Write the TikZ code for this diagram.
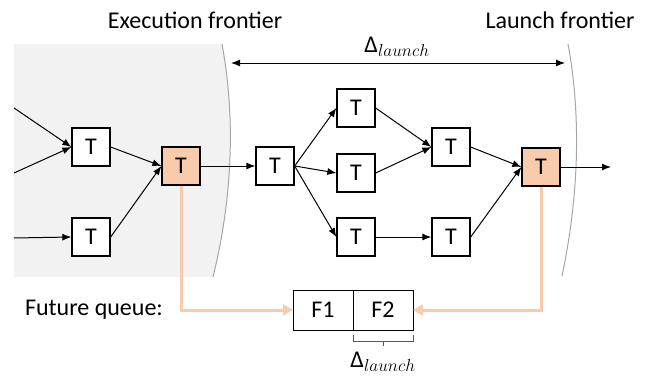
\documentclass[tikz,border=0pt]{standalone}
\usepackage{fontspec}
\setmainfont{Carlito}
\DeclareMathSizes{24}{24}{18}{14}
\usetikzlibrary{positioning,arrows.meta}
\definecolor{shadegray}{RGB}{242,242,242}
\definecolor{frontiergray}{RGB}{166,166,166}
\definecolor{futureorange}{RGB}{248,203,173}
\definecolor{bracketgray}{RGB}{89,89,89}

\begin{document}
\begin{tikzpicture}[x=1pt, y=-1pt, node distance=90pt, font=\fontsize{24}{28}\selectfont]
    \tikzstyle{task} = [rectangle, draw=black, line width=1.3pt, fill=white, minimum size=38pt, inner sep=0pt, text centered]
    \tikzstyle{frontiertask} = [task, fill=futureorange]
    \tikzstyle{slot} = [rectangle, draw=black, line width=0.9pt, minimum width=60pt, minimum height=40pt, inner sep=0pt, outer sep=0pt]
    \tikzstyle{edge} = [-{Latex[length=9pt,width=7pt]}, line width=1pt]
    \tikzstyle{span} = [{Latex[length=9pt,width=7pt]}-{Latex[length=9pt,width=7pt]}, line width=1pt]
    \tikzstyle{futurelink} = [-{Triangle[length=10pt,width=11pt]}, draw=futureorange, line width=3pt]
    \tikzstyle{frontier} = [draw=frontiergray, line width=1pt]
    \tikzstyle{bracket} = [draw=bracketgray, line width=1pt]

    \useasboundingbox (0,0) rectangle (652,375);

    % Executed region and frontiers
    \fill [shadegray] (14,44) -- (222,44) .. controls (236,120) and (232,200) .. (213,277) -- (14,277) -- cycle;
    \draw [frontier] (222,44) .. controls (236,120) and (232,200) .. (213,277);
    \draw [frontier] (568,44) .. controls (582,120) and (578,200) .. (562,276);

    % Titles
    \node (exectitle) at (195,20) {Execution frontier};
    \node (launchtitle) at (560,20) {Launch frontier};
    \node (queuelabel) at (94,310) {Future queue:};
    \node (spanlabel) at (397,47) {Δ$_{launch}$};

    % Open ends
    \coordinate (srcupper) at (14,108);
    \coordinate (srcmid) at (14,173);
    \coordinate (srclower) at (14,238);
    \coordinate (sink) at (611,167);
    \coordinate (execmark) at (231,63);
    \coordinate (launchmark) at (565,63);

    % Tasks
    \node [task] (upperin) at (91,147) {T};
    \node [task, below of=upperin] (lowerin) {T};
    \node [frontiertask, right of=upperin, yshift=-19pt] (execnode) {T};
    \node [task, right of=execnode, xshift=4pt] (firstnode) {T};
    \node [task, right of=firstnode, xshift=-9pt, yshift=58pt] (topnode) {T};
    \node [task, right of=firstnode, xshift=-9pt, yshift=-7pt] (midnode) {T};
    \node [task, right of=firstnode, xshift=-9pt, yshift=-71pt] (botnode) {T};
    \node [task, right of=topnode, xshift=5pt, yshift=-39pt] (joinnode) {T};
    \node [task, right of=botnode, xshift=5pt] (tailnode) {T};
    \node [frontiertask, right of=joinnode, yshift=-20pt] (launchnode) {T};

    % Future queue
    \node [slot] (fone) at (323,310) {F1};
    \node [slot, right=0pt of fone] (ftwo) {F2};
    \node (slotspan) at (383,362) {Δ$_{launch}$};

    % Arrows
    \draw [edge] (srcupper) -- (upperin.west);
    \draw [edge] (srcmid) -- (upperin.west);
    \draw [edge] (srclower) -- (lowerin.west);
    \draw [edge] (upperin.east) -- (execnode.west);
    \draw [edge] (lowerin.east) -- (execnode.west);
    \draw [edge] (execnode.east) -- (firstnode.west);
    \draw [edge] (firstnode.east) -- (topnode.west);
    \draw [edge] (firstnode.east) -- (midnode.west);
    \draw [edge] (firstnode.east) -- (botnode.west);
    \draw [edge] (topnode.east) -- (joinnode.west);
    \draw [edge] (midnode.east) -- (joinnode.west);
    \draw [edge] (botnode.east) -- (tailnode.west);
    \draw [edge] (joinnode.east) -- (launchnode.west);
    \draw [edge] (tailnode.east) -- (launchnode.west);
    \draw [edge] (launchnode.east) -- (sink);
    \draw [span] (execmark) -- (launchmark);

    % Futures
    \draw [futurelink] (execnode.south) |- (fone.west);
    \draw [futurelink] (launchnode.south) |- (ftwo.east);
    \draw [bracket] ([yshift=-5pt]ftwo.south west) -- ++(0pt,-6pt) -| ([yshift=-5pt]ftwo.south east);
    \draw [bracket] ([yshift=-11pt]ftwo.south) -- ++(0pt,-5pt);
\end{tikzpicture}
\end{document}
